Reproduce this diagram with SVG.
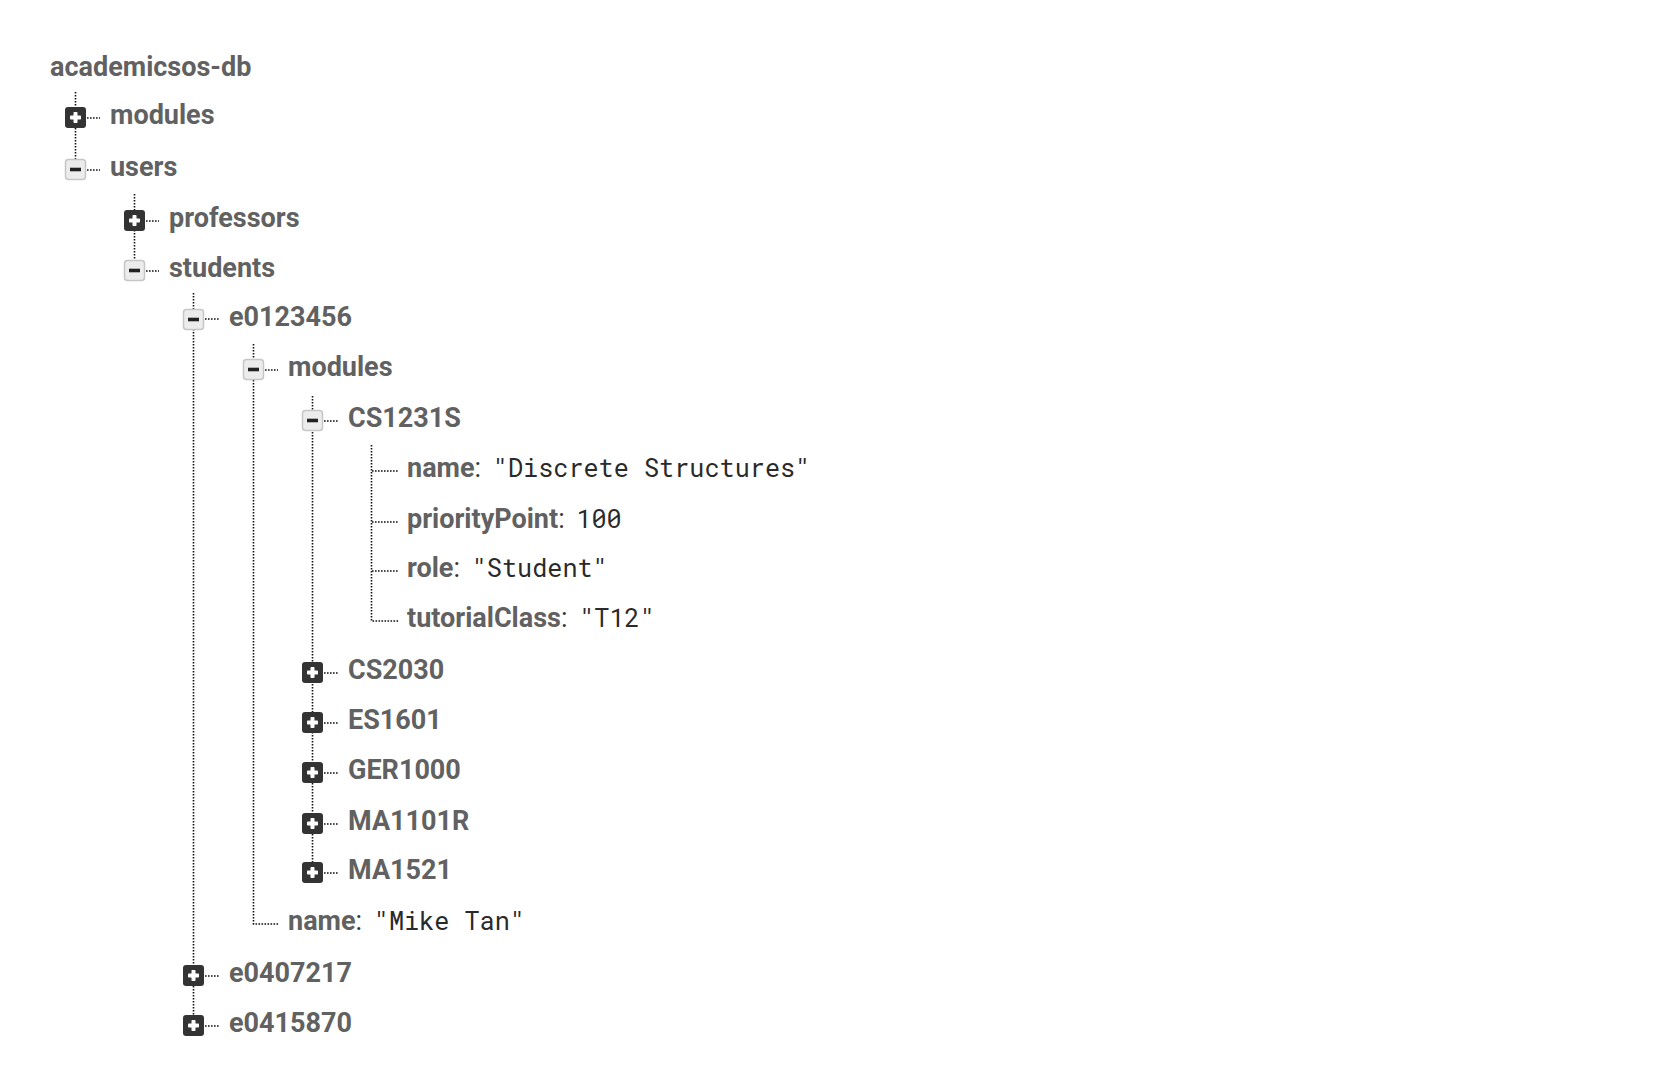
<svg xmlns="http://www.w3.org/2000/svg" xmlns:xlink="http://www.w3.org/1999/xlink" width="1674" height="1092" viewBox="0 0 1674 1092">
<style>
text{font-family:Roboto,"Liberation Sans",Arial,sans-serif;font-size:27px;font-weight:700;fill:#616161}
.c{font-weight:400;fill:#333}
.v{font-family:"Roboto Mono","DejaVu Sans Mono","Liberation Mono",monospace;font-size:25.2px;font-weight:400;fill:#2a2a2a}
.dl{stroke:#111;stroke-width:1.6;stroke-dasharray:1.6 1.4;fill:none}
</style>
<defs>
<g id="plus">
<rect x="-10.5" y="-10.5" width="21" height="21" rx="3" fill="#333"/>
<rect x="-5.5" y="-2" width="11" height="4" rx="0.8" fill="#fff"/>
<rect x="-2" y="-5.5" width="4" height="11" rx="0.8" fill="#fff"/>
</g>
<g id="minus">
<rect x="-10" y="-10" width="20" height="20" rx="3" fill="#ececec" stroke="#c6c6c6" stroke-width="1.5"/>
<rect x="-5.5" y="-1.8" width="11" height="3.6" fill="#222"/>
</g>
</defs>
<rect width="1674" height="1092" fill="#fff"/>
<g id="connectors">
<path class="dl" d="M75.5 92V170M134.5 194V271M193.5 293V1026M253.5 344V924H279M312.5 396V873M371.5 445V621H399"/>
<path class="dl" d="M87 118H100M87 170H100M146 221H159M146 271H159M205 319H219M205 976H219M205 1026H219M265 370H278M324 421H338M324 673H338M324 723H338M324 773H338M324 824H338M324 873H338M372 471H399M372 522H399M372 571H399"/>
</g>
<g id="root"><text x="50" y="76">academicsos-db</text></g>
<g id="n-modules"><use xlink:href="#plus" x="75.5" y="117.5"/><text x="110" y="124">modules</text></g>
<g id="n-users"><use xlink:href="#minus" x="75.5" y="169.5"/><text x="110" y="176">users</text></g>
<g id="n-professors"><use xlink:href="#plus" x="134.5" y="220.5"/><text x="169" y="227">professors</text></g>
<g id="n-students"><use xlink:href="#minus" x="134.5" y="270.5"/><text x="169" y="277">students</text></g>
<g id="n-e0123456"><use xlink:href="#minus" x="193.5" y="319.5"/><text x="229" y="326">e0123456</text></g>
<g id="n-e0123456-modules"><use xlink:href="#minus" x="253.5" y="369.5"/><text x="288" y="376">modules</text></g>
<g id="n-CS1231S"><use xlink:href="#minus" x="312.5" y="420.5"/><text x="348" y="427">CS1231S</text></g>
<g id="n-CS1231S-name"><text x="407" y="477">name<tspan class="c">: </tspan><tspan class="v" dx="5">"Discrete Structures"</tspan></text></g>
<g id="n-CS1231S-priorityPoint"><text x="407" y="528">priorityPoint<tspan class="c">: </tspan><tspan class="v" dx="5">100</tspan></text></g>
<g id="n-CS1231S-role"><text x="407" y="577">role<tspan class="c">: </tspan><tspan class="v" dx="5">"Student"</tspan></text></g>
<g id="n-CS1231S-tutorialClass"><text x="407" y="627">tutorialClass<tspan class="c">: </tspan><tspan class="v" dx="5">"T12"</tspan></text></g>
<g id="n-CS2030"><use xlink:href="#plus" x="312.5" y="672.5"/><text x="348" y="679">CS2030</text></g>
<g id="n-ES1601"><use xlink:href="#plus" x="312.5" y="722.5"/><text x="348" y="729">ES1601</text></g>
<g id="n-GER1000"><use xlink:href="#plus" x="312.5" y="772.5"/><text x="348" y="779">GER1000</text></g>
<g id="n-MA1101R"><use xlink:href="#plus" x="312.5" y="823.5"/><text x="348" y="830">MA1101R</text></g>
<g id="n-MA1521"><use xlink:href="#plus" x="312.5" y="872.5"/><text x="348" y="879">MA1521</text></g>
<g id="n-e0123456-name"><text x="288" y="930">name<tspan class="c">: </tspan><tspan class="v" dx="5">"Mike Tan"</tspan></text></g>
<g id="n-e0407217"><use xlink:href="#plus" x="193.5" y="975.5"/><text x="229" y="982">e0407217</text></g>
<g id="n-e0415870"><use xlink:href="#plus" x="193.5" y="1025.5"/><text x="229" y="1032">e0415870</text></g>
</svg>
